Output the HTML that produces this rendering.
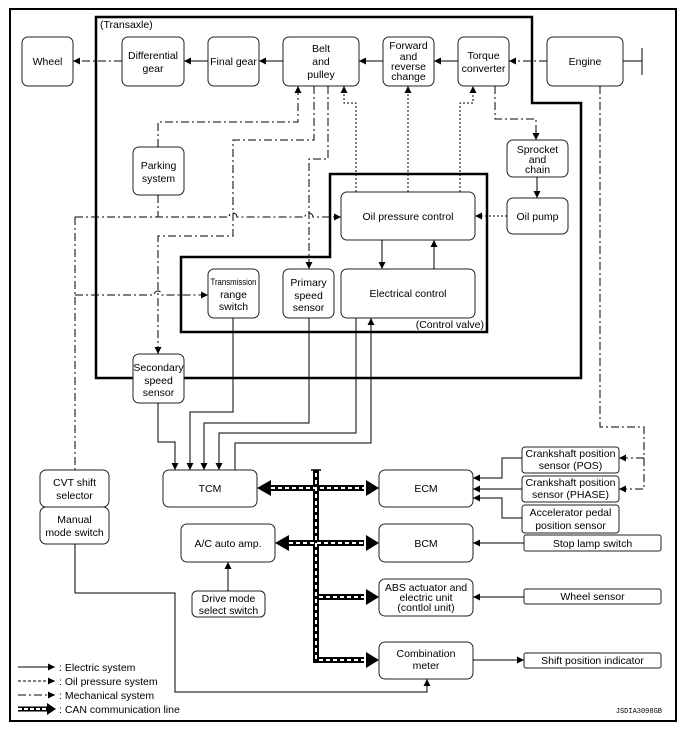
<!DOCTYPE html>
<html><head><meta charset="utf-8"><style>
html,body{margin:0;padding:0;background:#fff}
svg{display:block}
text{font-family:"Liberation Sans",sans-serif;font-size:10.5px;fill:#000}
</style></head><body>
<svg width="685" height="732" viewBox="0 0 685 732" xmlns="http://www.w3.org/2000/svg">
<defs>
<marker id="a" markerWidth="8" markerHeight="8" refX="7" refY="4" orient="auto" markerUnits="userSpaceOnUse"><path d="M0,0.5 L7,4 L0,7.5z" fill="#000"/></marker>
</defs>
<rect x="10" y="9" width="666" height="712" fill="none" stroke="#000" stroke-width="2"/>
<polygon points="96,17 532,17 532,103 581,103 581,378 96,378" fill="none" stroke="#000" stroke-width="2.5"/>
<polygon points="330,174 487,174 487,332 181,332 181,257 330,257" fill="none" stroke="#000" stroke-width="2.5"/>
<text x="100" y="28">(Transaxle)</text>
<text x="484" y="328" text-anchor="end">(Control valve)</text>

<g fill="#fff" stroke="#222" stroke-width="1">
<rect x="22" y="37" width="51" height="49" rx="6"/>
<rect x="122" y="37" width="62" height="49" rx="6"/>
<rect x="208" y="37" width="51" height="49" rx="6"/>
<rect x="283" y="37" width="76" height="49" rx="6"/>
<rect x="383" y="37" width="51" height="49" rx="6"/>
<rect x="458" y="37" width="51" height="49" rx="6"/>
<rect x="547" y="37" width="76" height="49" rx="6"/>
<rect x="133" y="147" width="51" height="48" rx="6"/>
<rect x="507" y="140" width="61" height="37" rx="6"/>
<rect x="507" y="198" width="61" height="36" rx="6"/>
<rect x="341" y="192" width="134" height="48" rx="6"/>
<rect x="208" y="269" width="51" height="49" rx="6"/>
<rect x="283" y="269" width="51" height="49" rx="6"/>
<rect x="341" y="269" width="134" height="49" rx="6"/>
<rect x="133" y="354" width="51" height="49" rx="6"/>
<rect x="40" y="470" width="69" height="37" rx="6"/>
<rect x="40" y="507" width="69" height="37" rx="6"/>
<rect x="163" y="470" width="94" height="37" rx="6"/>
<rect x="379" y="470" width="94" height="37" rx="6"/>
<rect x="522" y="447" width="97" height="26" rx="3"/>
<rect x="522" y="476" width="97" height="26" rx="3"/>
<rect x="522" y="505" width="97" height="28" rx="3"/>
<rect x="181" y="524" width="94" height="38" rx="6"/>
<rect x="379" y="524" width="94" height="38" rx="6"/>
<rect x="524" y="535" width="137" height="16" rx="2"/>
<rect x="192" y="591" width="73" height="26" rx="5"/>
<rect x="379" y="579" width="94" height="37" rx="6"/>
<rect x="524" y="589" width="137" height="15" rx="2"/>
<rect x="379" y="642" width="94" height="37" rx="6"/>
<rect x="524" y="653" width="137" height="15" rx="2"/>
</g>

<g text-anchor="middle">
<text x="47.5" y="65">Wheel</text>
<text x="153" y="59">Differential</text><text x="153" y="72">gear</text>
<text x="233.5" y="65">Final gear</text>
<text x="321" y="52">Belt</text><text x="321" y="65">and</text><text x="321" y="78">pulley</text>
<text x="408.5" y="49">Forward</text><text x="408.5" y="60">and</text><text x="408.5" y="70">reverse</text><text x="408.5" y="80">change</text>
<text x="483.5" y="59">Torque</text><text x="483.5" y="72">converter</text>
<text x="585" y="65">Engine</text>
<text x="158.5" y="169">Parking</text><text x="158.5" y="182">system</text>
<text x="537.5" y="153">Sprocket</text><text x="537.5" y="163">and</text><text x="537.5" y="173">chain</text>
<text x="537.5" y="220">Oil pump</text>
<text x="408" y="220">Oil pressure control</text>
<text x="233.5" y="285" style="font-size:9px" textLength="46" lengthAdjust="spacingAndGlyphs">Transmission</text><text x="233.5" y="298">range</text><text x="233.5" y="310">switch</text>
<text x="308.5" y="286">Primary</text><text x="308.5" y="299">speed</text><text x="308.5" y="311">sensor</text>
<text x="408" y="297">Electrical control</text>
<text x="158.5" y="371">Secondary</text><text x="158.5" y="384">speed</text><text x="158.5" y="396">sensor</text>
<text x="74.5" y="486">CVT shift</text><text x="74.5" y="499">selector</text>
<text x="74.5" y="523">Manual</text><text x="74.5" y="536">mode switch</text>
<text x="210" y="492">TCM</text>
<text x="426" y="492">ECM</text>
<text x="570.5" y="457">Crankshaft position</text><text x="570.5" y="469">sensor (POS)</text>
<text x="570.5" y="486">Crankshaft position</text><text x="570.5" y="498">sensor (PHASE)</text>
<text x="570.5" y="516">Accelerator pedal</text><text x="570.5" y="529">position sensor</text>
<text x="228" y="547">A/C auto amp.</text>
<text x="426" y="547">BCM</text>
<text x="592.5" y="547">Stop lamp switch</text>
<text x="228.5" y="602">Drive mode</text><text x="228.5" y="614">select switch</text>
<text x="426" y="591">ABS actuator and</text><text x="426" y="601">electric unit</text><text x="426" y="611">(contlol unit)</text>
<text x="592.5" y="600">Wheel sensor</text>
<text x="426" y="657">Combination</text><text x="426" y="669">meter</text>
<text x="592.5" y="664">Shift position indicator</text>
</g>

<g fill="none" stroke="#000" stroke-width="1">
<line x1="458" y1="61" x2="434" y2="61" marker-end="url(#a)"/>
<line x1="383" y1="61" x2="359" y2="61" marker-end="url(#a)"/>
<line x1="283" y1="61" x2="259" y2="61" marker-end="url(#a)"/>
<line x1="208" y1="61" x2="184" y2="61" marker-end="url(#a)"/>
<line x1="623" y1="61" x2="642" y2="61"/>
<line x1="642" y1="48" x2="642" y2="75"/>
<line x1="537" y1="177" x2="537" y2="198" marker-end="url(#a)"/>
<line x1="382" y1="240" x2="382" y2="269" marker-end="url(#a)"/>
<line x1="434" y1="269" x2="434" y2="240" marker-end="url(#a)"/>
<polyline points="158,403 158,442 175,442 175,470" marker-end="url(#a)"/>
<polyline points="233,318 233,412 190,412 190,470" marker-end="url(#a)"/>
<polyline points="309,318 309,423 204,423 204,470" marker-end="url(#a)"/>
<polyline points="356,318 356,433 219,433 219,470" marker-end="url(#a)"/>
<polyline points="235,470 235,443 371,443 371,318" marker-end="url(#a)"/>
<polyline points="522,458 502,458 502,478 473,478" marker-end="url(#a)"/>
<line x1="522" y1="489" x2="473" y2="489" marker-end="url(#a)"/>
<polyline points="522,518 502,518 502,498 473,498" marker-end="url(#a)"/>
<line x1="524" y1="543" x2="473" y2="543" marker-end="url(#a)"/>
<line x1="524" y1="597" x2="473" y2="597" marker-end="url(#a)"/>
<line x1="473" y1="660" x2="524" y2="660" marker-end="url(#a)"/>
<line x1="228" y1="591" x2="228" y2="562" marker-end="url(#a)"/>
<polyline points="75,544 75,593 175,593 175,692 427,692 427,679" marker-end="url(#a)"/>
</g>

<g fill="none" stroke="#000" stroke-width="1" stroke-dasharray="8,3,2,3">
<line x1="547" y1="61" x2="509" y2="61" marker-end="url(#a)"/>
<line x1="122" y1="61" x2="73" y2="61" marker-end="url(#a)"/>
<polyline points="158,147 158,122 298,122 298,86" marker-end="url(#a)"/>
<polyline points="314,86 314,140 233,140 233,236 158,236 158,354" marker-end="url(#a)"/>
<polyline points="328,86 328,159 309,159 309,269" marker-end="url(#a)"/>
<polyline points="495,86 495,119 536,119 536,140" marker-end="url(#a)"/>
<line x1="158" y1="195" x2="158" y2="217"/>
<line x1="75" y1="217" x2="75" y2="470"/>
<path d="M75,217 H229 A4,4 0 0 1 237,217 H305 A4,4 0 0 1 313,217 H341" marker-end="url(#a)"/>
<path d="M75,295 H154 A4,4 0 0 1 162,295 H208" marker-end="url(#a)"/>
<polyline points="600,86 600,427 644,427 644,489 619,489" marker-end="url(#a)"/>
<line x1="644" y1="458" x2="619" y2="458" marker-end="url(#a)"/>
</g>

<g fill="none" stroke="#000" stroke-width="1" stroke-dasharray="2,2">
<polyline points="356,192 356,103 344,103 344,86" marker-end="url(#a)"/>
<line x1="408" y1="192" x2="408" y2="86" marker-end="url(#a)"/>
<polyline points="460,192 460,103 473,103 473,86" marker-end="url(#a)"/>
<line x1="507" y1="216" x2="475" y2="216" marker-end="url(#a)"/>
</g>

<g fill="none">
<line x1="316" y1="470" x2="316" y2="663" stroke="#000" stroke-width="6"/>
<line x1="311" y1="470" x2="321" y2="470" stroke="#000" stroke-width="1.5"/>
<g stroke="#000" stroke-width="6">
<line x1="271" y1="488" x2="364" y2="488"/>
<line x1="289" y1="543" x2="364" y2="543"/>
<line x1="316" y1="597" x2="364" y2="597"/>
<line x1="316" y1="660" x2="364" y2="660"/>
</g>
<g stroke="#fff" stroke-width="2" stroke-dasharray="4,3">
<line x1="316" y1="473" x2="316" y2="660"/>
<line x1="271" y1="488" x2="366" y2="488"/>
<line x1="289" y1="543" x2="366" y2="543"/>
<line x1="319" y1="597" x2="366" y2="597"/>
<line x1="319" y1="660" x2="366" y2="660"/>
</g>
</g>
<g fill="#000">
<path d="M379,488 L366,480 L366,496z"/><path d="M257,488 L271,480 L271,496z"/>
<path d="M379,543 L366,535 L366,551z"/><path d="M275,543 L289,535 L289,551z"/>
<path d="M379,597 L366,589 L366,605z"/>
<path d="M379,660 L366,652 L366,668z"/>
</g>

<g fill="none" stroke="#000" stroke-width="1">
<line x1="18" y1="667" x2="55" y2="667" marker-end="url(#a)"/>
<line x1="18" y1="681" x2="55" y2="681" stroke-dasharray="3,2" marker-end="url(#a)"/>
<line x1="18" y1="695" x2="55" y2="695" stroke-dasharray="8,3,2,3" marker-end="url(#a)"/>
<line x1="18" y1="709" x2="48" y2="709" stroke-width="5"/>
<line x1="18" y1="709" x2="48" y2="709" stroke="#fff" stroke-width="2" stroke-dasharray="4,2"/>
</g>
<path d="M56,709 L47,703 L47,715z" fill="#000"/>
<text x="59" y="671">: Electric system</text>
<text x="59" y="685">: Oil pressure system</text>
<text x="59" y="699">: Mechanical system</text>
<text x="59" y="713">: CAN communication line</text>
<text x="662" y="713" text-anchor="end" style="font-family:'Liberation Mono',monospace;font-size:7px">JSDIA3098GB</text>
</svg>
</body></html>
